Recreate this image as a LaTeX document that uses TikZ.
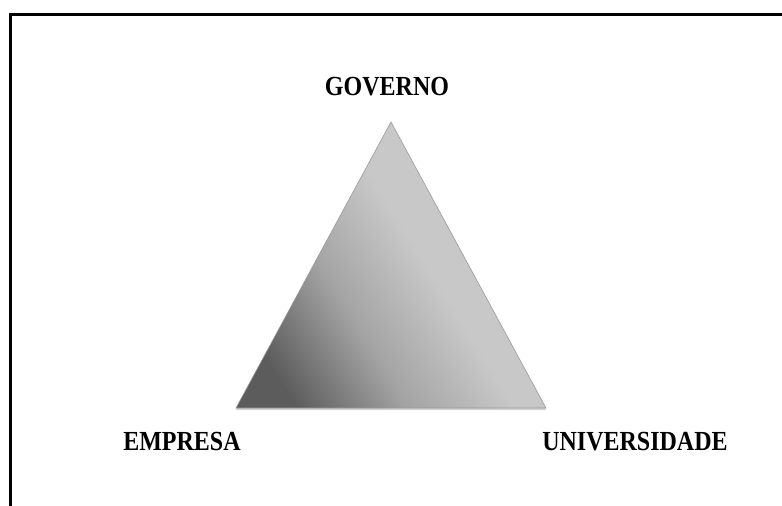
\documentclass[tikz,border=0pt]{standalone}
\usepackage{fontspec}
\setmainfont{Liberation Serif}
\usetikzlibrary{shadows}
\definecolor{tridark}{HTML}{5C5C5C}
\definecolor{trimid}{HTML}{A4A4A4}
\definecolor{trilight}{HTML}{C8C8C8}
\pgfdeclareverticalshading{tripla}{100bp}{color(0bp)=(tridark); color(24bp)=(tridark); color(40bp)=(trimid); color(55bp)=(trilight); color(100bp)=(trilight)}
\tikzset{rotulo/.style={font=\fontsize{24}{24}\selectfont\bfseries, inner sep=0pt, anchor=base}}
\newcommand{\alto}[1]{\scalebox{1}[1.15]{#1}}

\begin{document}
\begin{tikzpicture}[x=1pt,y=1pt]
        \useasboundingbox (0,0) rectangle (782,-506);
        \draw[line width=3pt] (782,-14) -- (10,-14) -- (10,-506);
        \coordinate (topo) at (391,-122);
        \coordinate (esq) at (236,-408);
        \coordinate (dir) at (546,-408);
        \shade[shading=tripla, shading angle=-58, draw=gray!80, line width=0.6pt,
            drop shadow={shadow xshift=0pt, shadow yshift=-2pt, opacity=0.35}]
            (topo) -- (dir) -- (esq) -- cycle;
        \node[rotulo] (governo) at (387,-95) {\alto{GOVERNO}};
        \node[rotulo] (empresa) at (182,-450) {\alto{EMPRESA}};
        \node[rotulo] (universidade) at (635,-450) {\alto{UNIVERSIDADE}};
    \end{tikzpicture}
\end{document}
